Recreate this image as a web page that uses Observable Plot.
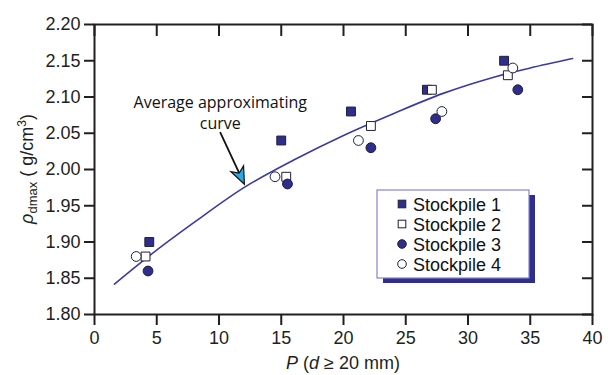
<!DOCTYPE html>
<html>
<head>
<meta charset="utf-8">
<script src="https://cdn.jsdelivr.net/npm/d3@7"></script>
<script src="https://cdn.jsdelivr.net/npm/@observablehq/plot@0.6"></script>
<style>
  body { margin: 0; background: #fff; }
  #chart { width: 608px; height: 375px; }
</style>
</head>
<body>
<div id="chart"></div>
<script>
// Tick values
const xTicks = [0, 5, 10, 15, 20, 25, 30, 35, 40];
const yTicks = [1.80, 1.85, 1.90, 1.95, 2.00, 2.05, 2.10, 2.15, 2.20];

// Series names
const seriesNames = ["Stockpile 1", "Stockpile 2", "Stockpile 3", "Stockpile 4"];

// Measured points: P (share of grains d >= 20 mm, %) and max dry density (g/cm3)
const stockpile1P   = [4.4, 15.0, 20.6, 26.7, 32.9];
const stockpile1Rho = [1.90, 2.04, 2.08, 2.11, 2.15];
const stockpile2P   = [4.1, 15.4, 22.2, 27.1, 33.2];
const stockpile2Rho = [1.88, 1.99, 2.06, 2.11, 2.13];
const stockpile3P   = [4.3, 15.5, 22.2, 27.4, 34.0];
const stockpile3Rho = [1.86, 1.98, 2.03, 2.07, 2.11];
const stockpile4P   = [3.35, 14.5, 21.2, 27.9, 33.6];
const stockpile4Rho = [1.88, 1.99, 2.04, 2.08, 2.14];

// Average approximating curve
const curveP   = [1.6, 4.4, 8.0, 12.0, 16.0, 20.0, 24.0, 28.0, 32.0, 35.0, 38.4];
const curveRho = [1.842, 1.881, 1.927, 1.975, 2.013, 2.047, 2.077, 2.105, 2.127, 2.140, 2.153];

// Annotation: text anchor and arrow (start -> tip) in data units
const noteText = "Average approximating\ncurve";
const noteAt = [10.1, 2.105];
const arrowFrom = [10.13, 2.051];
const arrowTo = [12.08, 1.979];

// Styling
const ink = "#231f20";
const navy = "#302e8c";
const lineBlue = "#3a3aa6";
const symbols = ["square", "square", "circle", "circle"];
const fills = [navy, "#ffffff", navy, "#ffffff"];
const radii = [5.0, 5.0, 4.9, 4.9];

const rows = (ps, rs) => ps.map((p, i) => ({p, rho: rs[i]}));
const seriesData = [
  rows(stockpile1P, stockpile1Rho),
  rows(stockpile2P, stockpile2Rho),
  rows(stockpile3P, stockpile3Rho),
  rows(stockpile4P, stockpile4Rho)
];
const curve = rows(curveP, curveRho);

const mL = 94, mR = 16, mT = 24, mB = 61, W = 608, H = 375;
const innerW = W - mL - mR, innerH = H - mT - mB;

const plot = Plot.plot({
  width: W,
  height: H,
  marginLeft: mL,
  marginRight: mR,
  marginTop: mT,
  marginBottom: mB,
  x: {domain: [0, 40]},
  y: {domain: [1.8, 2.2]},
  style: {fontFamily: "'Liberation Sans', Arial, sans-serif", fontSize: "18px", color: ink, background: "#fff"},
  marks: [
    Plot.axisX(xTicks, {anchor: "bottom", tickSize: 11, tickPadding: 6, strokeWidth: 2, stroke: ink, fill: ink, label: null, tickFormat: d => String(d)}),
    Plot.axisY(yTicks, {anchor: "left", tickSize: 10, tickPadding: 4, strokeWidth: 2, stroke: ink, fill: ink, label: null, tickFormat: d3.format(".2f")}),
    // inward ticks on the top and right edges
    Plot.tickX(xTicks, {x: d => d, insetBottom: innerH - 12, stroke: ink, strokeWidth: 2}),
    Plot.tickY(yTicks, {y: d => d, insetLeft: innerW - 10, stroke: ink, strokeWidth: 2}),
    Plot.frame({stroke: ink, strokeWidth: 2}),
    Plot.line(curve, {x: "p", y: "rho", stroke: lineBlue, strokeWidth: 1.6, curve: "catmull-rom"}),
    ...seriesData.map((data, i) => Plot.dot(data, {
      x: "p", y: "rho", symbol: symbols[i], r: radii[i],
      fill: fills[i], stroke: "#1e1e3a", strokeWidth: 1
    })),
    Plot.text([noteText], {
      x: () => noteAt[0], y: () => noteAt[1], text: d => d,
      fontFamily: "'Open Sans', sans-serif", fontSize: 16, lineHeight: 1.3,
      lineAnchor: "top", textAnchor: "middle", fill: "#111"
    })
  ]
});

document.getElementById("chart").appendChild(plot);

const svg = d3.select(plot);
const sx = plot.scale("x"), sy = plot.scale("y");

// Arrow pointing at the curve
{
  const x0 = sx.apply(arrowFrom[0]), y0 = sy.apply(arrowFrom[1]);
  const x1 = sx.apply(arrowTo[0]), y1 = sy.apply(arrowTo[1]);
  const len = Math.hypot(x1 - x0, y1 - y0);
  const ux = (x1 - x0) / len, uy = (y1 - y0) / len;
  const px = -uy, py = ux;
  const hl = 17, hw = 7;
  const bx = x1 - ux * hl, by = y1 - uy * hl;
  const nx = x1 - ux * hl * 0.72, ny = y1 - uy * hl * 0.72;
  svg.append("line")
    .attr("x1", x0).attr("y1", y0).attr("x2", nx).attr("y2", ny)
    .attr("stroke", "#111").attr("stroke-width", 1.8);
  svg.append("path")
    .attr("d", `M${x1},${y1}L${bx + px * hw},${by + py * hw}L${nx},${ny}L${bx - px * hw},${by - py * hw}Z`)
    .attr("fill", "#27a9e1").attr("stroke", "#111").attr("stroke-width", 1.2)
    .attr("stroke-linejoin", "miter");
}

// Axis titles with italics, subscript and superscript
{
  const xt = svg.append("text")
    .attr("x", mL + innerW / 2).attr("y", 369)
    .attr("text-anchor", "middle")
    .attr("font-family", "'Liberation Sans', Arial, sans-serif")
    .attr("font-size", 18).attr("fill", ink);
  xt.append("tspan").attr("font-style", "italic").text("P");
  xt.append("tspan").text(" (");
  xt.append("tspan").attr("font-style", "italic").text("d");
  xt.append("tspan").text(" \u2265 20 mm)");

  const yt = svg.append("text")
    .attr("transform", `translate(33,${mT + innerH / 2}) rotate(-90)`)
    .attr("text-anchor", "middle")
    .attr("font-family", "'Liberation Sans', Arial, sans-serif")
    .attr("font-size", 18).attr("fill", ink);
  yt.append("tspan").attr("font-style", "italic").text("\u03c1");
  yt.append("tspan").attr("font-size", 13).attr("dy", 4).text("dmax");
  yt.append("tspan").attr("dy", -4).text(" ( g/cm");
  yt.append("tspan").attr("font-size", 12).attr("dy", -7).text("3");
  yt.append("tspan").attr("dy", 7).text(")");
}

// Legend box with drop shadow
{
  const lx = 377, ly = 190, lw = 152, lh = 88;
  const g = svg.append("g").attr("text-anchor", "start");
  g.append("rect").attr("x", lx + 6).attr("y", ly + 5).attr("width", lw).attr("height", lh).attr("fill", navy);
  g.append("rect").attr("x", lx).attr("y", ly).attr("width", lw).attr("height", lh)
    .attr("fill", "#fff").attr("stroke", "#8683cc").attr("stroke-width", 1.2);
  seriesNames.forEach((name, i) => {
    const cy = ly + 14 + i * 20;
    const cx = lx + 25;
    if (symbols[i] === "square") {
      g.append("rect").attr("x", cx - 3.8).attr("y", cy - 3.8).attr("width", 7.6).attr("height", 7.6)
        .attr("fill", fills[i]).attr("stroke", "#1e1e3a").attr("stroke-width", 1);
    } else {
      g.append("circle").attr("cx", cx).attr("cy", cy).attr("r", 4.3)
        .attr("fill", fills[i]).attr("stroke", "#1e1e3a").attr("stroke-width", 1);
    }
    g.append("text").attr("x", lx + 36).attr("y", cy + 6.5)
      .attr("text-anchor", "start")
      .attr("font-family", "'Liberation Sans', Arial, sans-serif")
      .attr("font-size", 18).attr("fill", "#111").text(name);
  });
}
</script>
</body>
</html>
